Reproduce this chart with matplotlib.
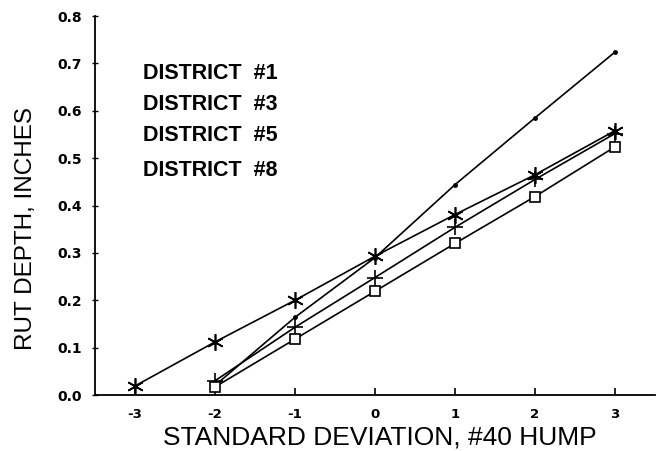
import numpy as np
import matplotlib
matplotlib.use('agg')
import matplotlib.pyplot as plt

##### Data: rut depth (inches) vs. standard deviation of #40 hump
std_dev = [-3, -2, -1, 0, 1, 2, 3]
district_1 = [np.nan, 0.02, 0.164, 0.29, 0.444, 0.585, 0.724]
district_3 = [0.019, 0.112, 0.200, 0.293, 0.381, 0.465, 0.558]
district_5 = [np.nan, 0.030, 0.143, 0.248, 0.354, 0.455, 0.552]
district_8 = [np.nan, 0.017, 0.118, 0.219, 0.320, 0.419, 0.524]
labels = ['DISTRICT  #1', 'DISTRICT  #3', 'DISTRICT  #5', 'DISTRICT  #8']
xticks = [-3, -2, -1, 0, 1, 2, 3]
yticks = [0.0, 0.1, 0.2, 0.3, 0.4, 0.5, 0.6, 0.7, 0.8]

##### Plot
fig = plt.figure(figsize=(6.63, 4.51), dpi=100)
ax = fig.add_axes([0.143, 0.124, 0.845, 0.8405])

asterisk = (6, 2, 0)
ax.plot(std_dev, district_1, color='black', lw=1.2, marker='o', markersize=2.5)
ax.plot(std_dev, district_3, color='black', lw=1.2, marker=asterisk, markersize=12, markeredgewidth=1.2)
ax.plot(std_dev, district_5, color='black', lw=1.2, marker='+', markersize=11, markeredgewidth=1.2)
ax.plot(std_dev, district_8, color='black', lw=1.2, marker='s', markersize=7,
        markerfacecolor='white', markeredgewidth=1.2)

ax.set_xlim(-3.5, 3.5)
ax.set_ylim(0.0, 0.8)
for side in ['top', 'right']:
    ax.spines[side].set_visible(False)
ax.spines['left'].set_linewidth(1.3)
ax.spines['bottom'].set_linewidth(1.3)

ax.set_xticks(xticks)
ax.set_xticklabels([str(t) for t in xticks], family='DejaVu Sans', fontweight='bold', fontsize=9.5)
ax.set_yticks(yticks)
ax.set_yticklabels(['%.1f' % t for t in yticks], family='DejaVu Sans', fontweight='bold', fontsize=10)
ax.tick_params(axis='x', direction='in', length=5, width=1.2, pad=9)
ax.tick_params(axis='y', direction='inout', length=5, width=1.0, pad=7)

ax.set_xlabel('STANDARD DEVIATION, #40 HUMP', family='Liberation Sans', fontsize=19)
ax.xaxis.set_label_coords(0.509, -0.08)
ax.set_ylabel('RUT DEPTH, INCHES', family='Liberation Sans', fontsize=17.5)
ax.yaxis.set_label_coords(-0.104, 0.44)

# district labels stacked in the upper left
label_y = [0.678, 0.613, 0.548, 0.474]
for lab, yy in zip(labels, label_y):
    ax.text(-2.9, yy, lab, family='Liberation Sans', fontweight='bold', fontsize=15.5,
            ha='left', va='center')

plt.savefig('out.png', dpi=100)
